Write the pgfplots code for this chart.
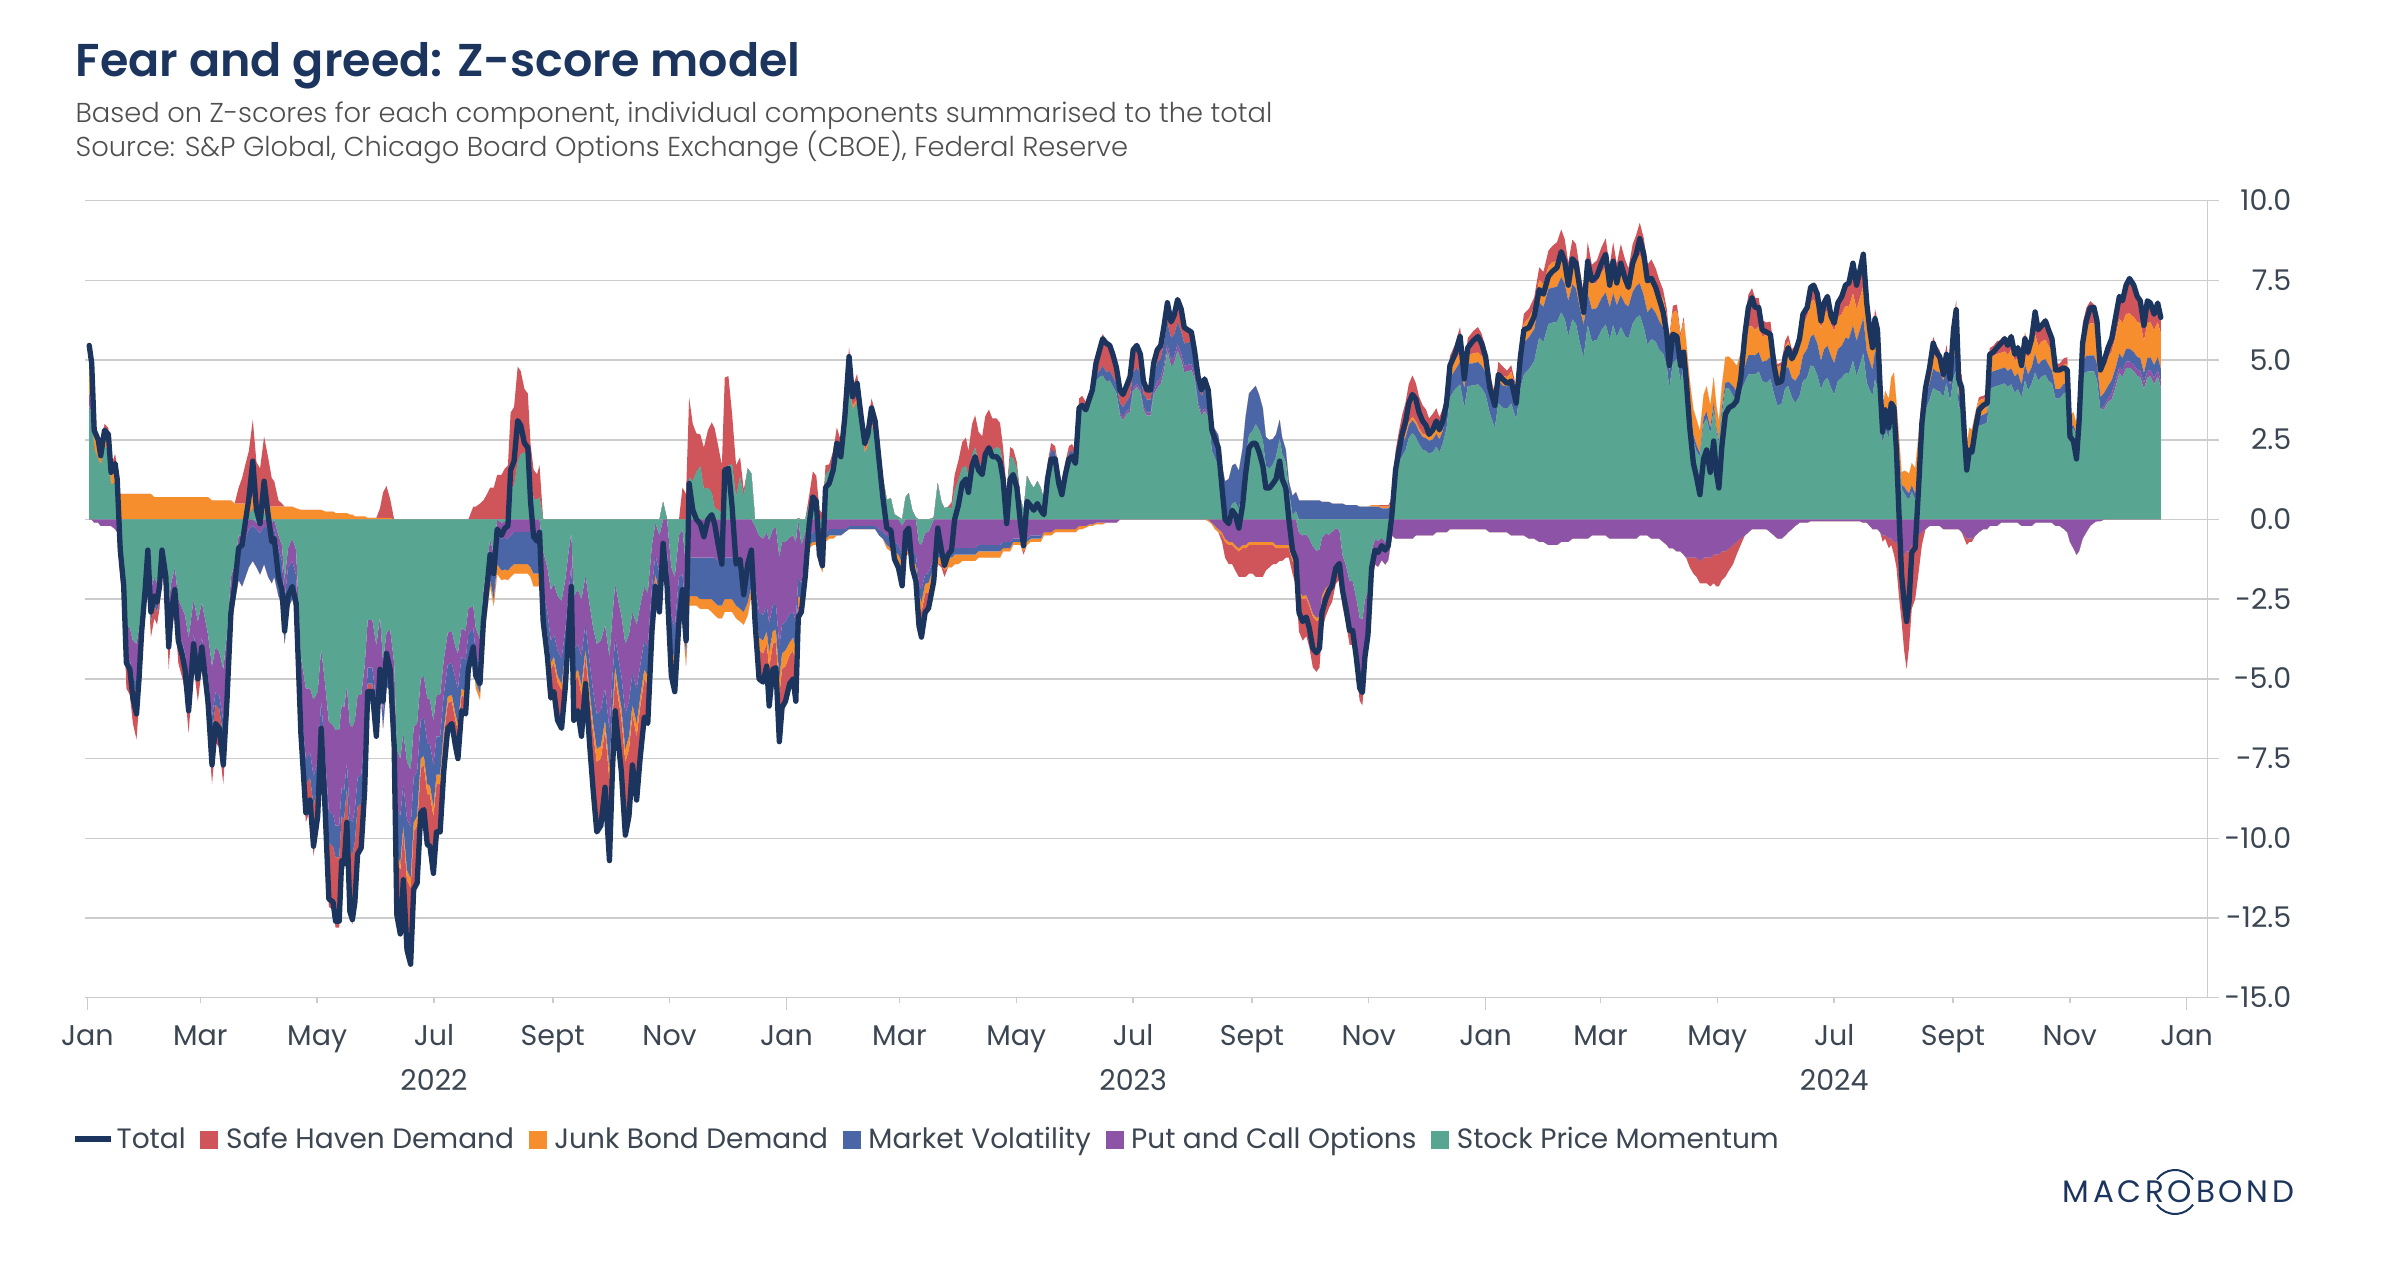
\documentclass[border=0pt]{standalone}
\usepackage{fontspec}
\setmainfont{Poppins}
\newfontfamily\titlefont{Poppins SemiBold}
\newfontfamily\lightfont{Poppins Light}
\usepackage{pgfplots}
\pgfplotsset{compat=1.18}
\usepackage{pgfplotstable}
\usetikzlibrary{calc}

\definecolor{navy}{HTML}{1C355E}
\definecolor{cR}{HTML}{D0555B}
\definecolor{cO}{HTML}{F68E2E}
\definecolor{cB}{HTML}{4A66A7}
\definecolor{cP}{HTML}{8D53A6}
\definecolor{cG}{HTML}{58A591}
\definecolor{gridc}{HTML}{CCCCCC}
\definecolor{tickc}{HTML}{3B4652}
\definecolor{subc}{HTML}{4F4F4F}

\pgfplotstableread{
d tot r o b p
1 5.46 0.7 0.8 0 0.4
2.3 4.9 0.6 0.7 0 0.3
3.6 2.8 0.3 0.4 0 -0.1
5.7 2.5 0.3 0.4 0 -0.1
7 2.0 0.2 0.3 0 -0.2
9 2.8 0.3 0.4 0 -0.2
11 2.67 0.4 0.3 0 -0.2
12.4 1.48 0.3 0.3 0 -0.2
14.5 1.76 0.6 0.3 0 -0.3
15.6 1.27 0.3 0.4 0 -0.4
17.2 -0.96 -0.1 0.8 -0.1 -0.3
19 -2.08 -0.3 0.8 -0.1 -0.5
20.4 -4.5 -0.8 0.8 -0.2 -1.0
22.2 -4.7 -0.9 0.8 -0.2 -1.0
23.8 -5.6 -1.2 0.8 -0.3 -1.1
25.7 -6.1 -1.5 0.8 -0.3 -1.2
27 -5.0 -1.0 0.8 -0.3 -1.1
28.4 -3.5 -0.5 0.8 -0.2 -0.9
30.2 -2.2 -0.3 0.8 -0.1 -0.7
31.6 -0.96 -0.1 0.8 -0.1 -0.4
33.2 -2.9 -0.5 0.8 -0.2 -0.8
35 -2.4 -0.4 0.7 -0.2 -0.7
36.4 -2.6 -0.4 0.7 -0.2 -0.7
37.7 -2.1 -0.3 0.7 -0.2 -0.7
39 -0.96 -0.1 0.7 -0.1 -0.5
41 -1.8 -0.3 0.7 -0.2 -0.7
42.5 -4.0 -0.8 0.7 -0.3 -1.0
43.8 -2.9 -0.5 0.7 -0.2 -0.9
45.7 -2.2 -0.4 0.7 -0.2 -0.8
47.5 -3.8 -0.7 0.7 -0.3 -1.0
49.7 -4.3 -0.8 0.7 -0.3 -1.1
51 -4.7 -0.9 0.7 -0.3 -1.2
52.9 -6.0 -1.2 0.7 -0.4 -1.4
55.5 -3.9 -0.7 0.7 -0.3 -1.1
57.7 -5.0 -1.0 0.7 -0.3 -1.2
59.8 -4.0 -0.7 0.7 -0.3 -1.1
63 -5.7 -1.1 0.7 -0.4 -1.3
65.1 -7.7 -1.6 0.6 -0.5 -1.6
67 -6.4 -1.2 0.6 -0.4 -1.4
68.9 -6.55 -1.2 0.6 -0.4 -1.4
71 -7.7 -1.5 0.6 -0.5 -1.6
72.9 -5.7 -1.0 0.6 -0.4 -1.3
75 -2.9 -0.3 0.6 -0.5 -0.9
76.9 -2.1 0 0.5 -0.6 -0.6
79 -0.9 0.5 0.5 -1.0 -0.4
80.8 -0.8 0.8 0.5 -1.2 -0.4
82.4 -0.13 1.2 0.5 -1.2 -0.3
84.3 0.64 1.6 0.4 -1.2 -0.3
86.4 1.83 2.4 0.4 -1.1 -0.2
88.3 0.3 1.4 0.4 -1.2 -0.2
90.2 -0.13 1.2 0.4 -1.3 -0.3
92.3 1.2 2.0 0.4 -1.2 -0.2
94.4 0.15 1.5 0.4 -1.5 -0.3
96.3 -0.7 0.9 0.4 -1.6 -0.3
97.6 -0.6 0.8 0.4 -1.5 -0.3
99.8 -1.8 0.2 0.4 -1.5 -0.4
101.6 -2.2 0.1 0.4 -1.4 -0.5
103 -3.5 0 0.4 -1.4 -0.6
104.8 -2.4 0 0.4 -1.3 -0.6
107 -2.1 0 0.4 -1.2 -0.7
109 -2.6 0 0.35 -1.2 -0.8
111.5 -6.7 -0.6 0.3 -0.6 -1.5
114.1 -9.2 -1.2 0.3 -0.8 -2.2
116.3 -8.8 -1.0 0.3 -0.8 -2.0
118.1 -10.25 -1.6 0.3 -0.9 -2.4
120.3 -9.3 -1.2 0.3 -0.8 -2.2
122.1 -6.55 -0.5 0.3 -0.7 -1.6
124.3 -9.3 -1.2 0.25 -0.8 -2.3
126.1 -11.9 -2.0 0.25 -1.0 -2.8
128.3 -12.0 -2.0 0.25 -1.0 -2.8
129.6 -12.6 -2.2 0.2 -1.0 -3.0
131.5 -12.6 -2.2 0.2 -1.0 -3.0
132.8 -10.7 -1.6 0.2 -0.9 -2.6
134.1 -10.8 -1.6 0.2 -0.9 -2.6
135.5 -9.5 -1.3 0.2 -0.8 -2.4
137.1 -12.3 -2.1 0.15 -1.0 -2.9
138.4 -12.55 -2.2 0.15 -1.0 -3.0
139.7 -12.0 -2.0 0.1 -1.0 -2.8
141.1 -10.5 -1.6 0.1 -0.9 -2.6
143 -10.3 -1.5 0.1 -0.9 -2.5
144.8 -8.5 -1.0 0.1 -0.8 -2.2
146.4 -5.4 -0.3 0.05 -0.5 -1.5
148.8 -5.4 -0.3 0.05 -0.5 -1.5
150.9 -6.8 -0.5 0.05 -0.6 -1.8
152.8 -4.7 0.3 0.05 -0.5 -1.5
154.4 -5.7 0.8 0.05 -0.5 -1.6
156.2 -4.2 1.0 0.05 -0.4 -1.3
158.1 -4.7 0.6 0.05 -0.5 -1.4
160.2 -7.1 0 0 -0.8 -1.8
161.6 -12.4 -1.8 -0.2 -1.4 -1.8
163.4 -13.0 -2.0 -0.2 -1.5 -1.8
165 -11.3 -1.5 -0.2 -1.3 -1.6
166.9 -13.5 -2.2 -0.3 -1.6 -1.8
168.8 -13.95 -2.4 -0.3 -1.6 -1.8
170.4 -11.6 -1.8 -0.3 -1.4 -1.6
172.2 -11.4 -1.8 -0.3 -1.4 -1.5
174.1 -9.2 -1.4 -0.3 -1.2 -1.3
175.7 -9.1 -1.4 -0.3 -1.2 -1.3
177.5 -10.2 -1.6 -0.3 -1.3 -1.4
178.9 -10.25 -1.6 -0.3 -1.3 -1.4
180.7 -11.1 -1.8 -0.3 -1.3 -1.4
182.3 -9.8 -1.5 -0.3 -1.2 -1.3
184.2 -9.8 -1.5 -0.3 -1.2 -1.3
186.1 -7.9 -1.1 -0.2 -1.1 -1.1
188.2 -6.55 -0.8 -0.2 -1.0 -1.0
190.3 -6.4 -0.7 -0.2 -1.0 -1.0
192.2 -7.1 -0.8 -0.2 -1.1 -1.0
193.5 -7.5 -0.9 -0.2 -1.1 -1.1
195.4 -6.0 -0.5 -0.2 -1.0 -0.9
197.5 -6.1 -0.5 -0.2 -1.0 -0.9
198.9 -4.7 0 -0.2 -0.9 -0.8
201.5 -4.0 0.4 -0.2 -0.8 -0.7
202.8 -4.9 0.4 -0.2 -0.9 -0.8
205 -5.15 0.5 -0.2 -0.9 -0.8
206.8 -3.2 0.6 -0.2 -0.8 -0.6
208.7 -2.1 0.8 -0.2 -0.8 -0.5
210.3 -1.1 1.0 -0.2 -0.8 -0.5
212.2 -1.7 1.0 -0.2 -0.9 -0.5
214 -0.3 1.4 -0.3 -0.9 -0.5
216.2 -0.5 1.4 -0.3 -1.0 -0.5
218 -0.27 1.6 -0.3 -1.0 -0.5
219.6 -0.2 1.7 -0.3 -1.0 -0.5
221 1.55 2.3 -0.3 -1.0 -0.5
222.8 1.83 2.5 -0.3 -1.0 -0.4
224.7 3.1 3.0 -0.3 -1.0 -0.4
226.3 2.95 2.6 -0.3 -1.0 -0.4
228.2 2.4 2.0 -0.3 -1.0 -0.4
230 2.25 1.8 -0.3 -1.0 -0.4
231.4 0.57 1.0 -0.3 -1.1 -0.4
233 -0.54 0.9 -0.4 -1.2 -0.5
234.8 -0.68 0.8 -0.4 -1.2 -0.5
236.1 -0.4 1.0 -0.4 -1.2 -0.5
238 -3.2 -0.2 -0.2 -0.6 -1.2
240.2 -4.3 -0.5 -0.2 -0.7 -1.4
242 -5.6 -0.9 -0.2 -0.7 -1.6
243.6 -5.4 -0.9 -0.2 -0.7 -1.6
245.5 -6.3 -1.2 -0.2 -0.8 -1.7
247.6 -6.55 -1.2 -0.2 -0.8 -1.8
249.5 -5.3 -0.9 -0.2 -0.7 -1.6
251.3 -3.5 -0.4 -0.2 -0.6 -1.3
252.7 -2.1 -0.1 -0.1 -0.5 -1.0
254 -6.3 -1.2 -0.2 -0.8 -1.7
256.1 -6.0 -1.1 -0.2 -0.8 -1.7
258 -6.8 -1.3 -0.3 -0.9 -1.8
260.1 -5.15 -0.9 -0.2 -0.8 -1.5
262.3 -7.1 -1.4 -0.3 -0.9 -1.8
264.1 -8.5 -1.8 -0.3 -1.0 -2.0
266 -9.8 -2.2 -0.4 -1.1 -2.2
268.1 -9.6 -2.1 -0.4 -1.1 -2.2
270.3 -8.4 -1.8 -0.3 -1.0 -2.0
272.6 -10.7 -2.5 -0.4 -1.2 -2.3
274.2 -7.8 -1.6 -0.3 -1.0 -1.9
275.6 -6.0 -1.1 -0.3 -0.9 -1.7
277.4 -7.1 -1.4 -0.3 -1.0 -1.8
278.8 -7.9 -1.7 -0.3 -1.0 -1.9
280.9 -9.9 -2.3 -0.4 -1.1 -2.2
282.8 -9.3 -2.1 -0.4 -1.1 -2.1
284.6 -7.7 -1.6 -0.3 -1.0 -1.9
286.8 -8.8 -2.0 -0.4 -1.1 -2.0
288.6 -7.5 -1.6 -0.3 -1.0 -1.9
290.8 -6.2 -1.2 -0.3 -0.9 -1.7
292.6 -6.4 -1.2 -0.3 -0.9 -1.7
294.8 -3.5 -0.5 -0.2 -0.7 -1.3
296.6 -2.1 -0.2 -0.2 -0.6 -1.0
298.7 -2.9 -0.3 -0.2 -0.7 -1.2
300.6 -0.75 0 -0.1 -0.5 -0.7
302.7 -2.1 -0.2 -0.2 -0.7 -1.0
304.9 -4.9 -0.6 -0.3 -1.0 -1.5
306.7 -5.4 -0.7 -0.3 -1.0 -1.6
308.9 -3.2 -0.3 -0.2 -0.9 -1.3
310.7 -2.2 1.0 -0.3 -1.2 -1.4
312.6 -3.8 0.8 -0.3 -1.3 -1.5
314.2 1.13 2.5 -0.3 -1.2 -1.2
316.1 0.3 1.8 -0.3 -1.2 -1.2
318 0 1.2 -0.3 -1.2 -1.2
320 -0.13 1.0 -0.3 -1.3 -1.2
321.9 -0.54 1.3 -0.3 -1.3 -1.2
324 0 1.8 -0.3 -1.3 -1.2
326 0.15 2.2 -0.4 -1.3 -1.2
327.5 -0.13 2.5 -0.4 -1.4 -1.2
329.4 -0.8 2.0 -0.4 -1.4 -1.3
331.3 -1.4 1.5 -0.4 -1.4 -1.3
332.8 1.55 3.0 -0.4 -1.3 -1.2
334.7 1.6 2.8 -0.4 -1.3 -1.2
336.6 0.43 1.6 -0.4 -1.3 -1.2
338.7 -1.4 1.0 -0.4 -1.4 -1.3
340.8 -1.25 0.6 -0.4 -1.4 -1.4
342.7 -2.36 0.2 -0.4 -1.4 -1.5
344.8 -1.4 0 -0.4 -1.2 -1.4
346.7 -0.96 0 -0.3 -0.9 -1.2
348.6 -3.2 -0.3 -0.3 -0.6 -1.8
350.7 -5.0 -0.9 -0.4 -0.8 -2.4
352.8 -5.1 -0.9 -0.4 -0.8 -2.4
354.7 -4.6 -0.7 -0.4 -0.8 -2.3
356 -5.85 -1.2 -0.5 -0.9 -2.6
357.9 -4.7 -0.8 -0.4 -0.8 -2.4
359.5 -4.65 -0.8 -0.4 -0.8 -2.4
361.3 -6.97 -1.5 -0.5 -1.0 -2.8
362.7 -5.9 -1.2 -0.5 -0.9 -2.6
364.5 -5.7 -1.1 -0.5 -0.9 -2.5
366.7 -5.15 -0.9 -0.4 -0.9 -2.4
368.5 -5.0 -0.9 -0.4 -0.8 -2.4
369.9 -5.7 -1.1 -0.5 -0.9 -2.5
371.2 -3.06 -0.4 -0.3 -0.6 -1.8
372.8 -2.9 -0.2 -0.2 -0.5 -1.2
374.8 -1.8 0 -0.2 -0.4 -0.8
376.9 -0.13 0.3 -0.1 -0.3 -0.5
378.8 0.71 1.0 -0.1 -0.3 -0.4
380.6 0.57 1.2 -0.1 -0.3 -0.4
382.2 -1.1 0.3 -0.2 -0.4 -0.6
383.8 -1.45 0.2 -0.2 -0.4 -0.7
385.4 1.0 0.3 -0.1 -0.2 -0.4
387.3 1.13 0.2 -0.1 -0.2 -0.3
389.4 1.55 0.3 -0.1 -0.2 -0.3
391.3 2.39 0.5 0.1 -0.2 -0.3
393.4 1.97 0.4 0.1 -0.2 -0.3
395.5 3.23 0.6 0.1 -0.1 -0.3
397.7 5.11 1.0 0.2 -0.1 -0.2
399.5 3.85 0.6 0.1 -0.1 -0.2
401.9 4.27 0.8 0.1 -0.1 -0.2
404 3.23 0.6 0.1 -0.1 -0.2
405.9 2.39 0.5 0.1 -0.1 -0.2
407.5 2.67 0.6 0.1 -0.1 -0.2
409.4 3.5 0.8 0.1 -0.1 -0.2
411.3 3.09 0.6 0.1 -0.1 -0.2
413.4 1.83 0.2 0.1 -0.2 -0.3
415.3 0.71 0 0 -0.2 -0.4
417.4 -0.27 0 -0.1 -0.3 -0.5
419.5 -0.34 0 -0.1 -0.3 -0.6
421.4 -1.24 -0.2 -0.2 -0.3 -0.7
423.5 -1.52 -0.3 -0.2 -0.3 -0.8
425.4 -2.08 -0.5 -0.2 -0.3 -0.9
427.2 -0.4 0 -0.1 -0.2 -0.8
428.8 -0.27 0 -0.1 -0.2 -0.8
430.7 -1.52 -0.3 -0.2 -0.3 -1.0
432.6 -1.94 -0.4 -0.2 -0.3 -1.1
434.2 -3.34 -0.7 -0.3 -0.3 -1.3
435.5 -3.69 -0.8 -0.3 -0.4 -1.4
437.4 -2.92 -0.6 -0.3 -0.3 -1.3
439.2 -2.78 -0.5 -0.3 -0.3 -1.3
441.9 -1.94 -0.3 -0.2 -0.3 -1.2
444 -0.27 0 -0.2 -0.2 -1.0
445.9 -0.96 -0.1 -0.2 -0.2 -1.0
447.5 -1.45 -0.2 -0.3 -0.2 -1.1
449.4 -1.1 0 -0.3 -0.2 -1.0
451.2 -0.96 0.2 -0.3 -0.2 -1.0
452.8 0 0.5 -0.3 -0.2 -0.9
454.7 0.43 0.6 -0.3 -0.2 -0.9
456.8 1.13 0.8 -0.2 -0.2 -0.9
458.7 1.27 0.9 -0.2 -0.2 -0.9
460 0.85 0.8 -0.2 -0.2 -0.9
461.9 1.69 1.0 -0.2 -0.2 -0.9
463.5 1.97 1.0 -0.2 -0.2 -0.9
465.3 1.55 1.0 -0.2 -0.2 -0.8
467.2 1.41 0.9 -0.2 -0.2 -0.8
468.8 2.04 1.1 -0.2 -0.2 -0.8
470.7 2.25 1.2 -0.2 -0.2 -0.8
472.5 1.97 1.0 -0.2 -0.2 -0.8
474.7 1.97 0.9 -0.2 -0.2 -0.8
476.5 1.83 0.8 -0.2 -0.2 -0.8
478.1 1.27 0.5 -0.1 -0.2 -0.7
480 -0.13 0.1 -0.1 -0.2 -0.7
481.8 1.27 0.3 -0.1 -0.2 -0.7
483.4 1.41 0.3 -0.1 -0.1 -0.6
485.3 1.0 0.2 -0.1 -0.1 -0.6
487.2 -0.13 0 -0.1 -0.1 -0.6
488.8 -0.82 -0.1 -0.2 -0.1 -0.7
490.6 0.57 0 -0.1 -0.1 -0.6
492.5 0.43 0 -0.1 -0.1 -0.5
494.1 0.29 0 -0.1 -0.1 -0.5
496 0.5 0 -0.1 -0.1 -0.5
497.8 0.29 0 -0.1 -0.1 -0.5
499.4 0.15 0 -0.1 0.1 -0.4
501.3 1.27 0.1 -0.1 0.2 -0.4
503.2 1.9 0.2 -0.1 0.2 -0.4
505.3 1.9 0.2 -0.1 0.3 -0.3
507.2 1.13 0.1 -0.1 0.2 -0.3
508.8 0.78 0.1 -0.1 0.2 -0.3
510.6 1.41 0.2 -0.1 0.2 -0.3
512.5 1.9 0.2 -0.1 0.2 -0.3
514.1 1.97 0.2 -0.1 0.2 -0.3
515.9 1.76 0.2 -0.1 0.2 -0.3
517.8 3.5 0.3 -0.1 0.1 -0.2
519.4 3.58 0.2 -0.1 0.1 -0.2
521.3 3.44 0.2 -0.05 0.1 -0.2
523.1 3.78 0.3 -0.05 0.1 -0.15
524.7 4.06 0.3 -0.05 0.1 -0.15
526.6 4.9 0.5 -0.05 0.2 -0.1
528.5 5.32 0.8 -0.05 0.2 -0.1
530.1 5.67 1.0 -0.05 0.3 -0.1
531.9 5.53 1.0 0 0.3 -0.1
533.8 5.46 0.9 0 0.3 -0.1
535.4 5.18 0.8 0 0.3 -0.1
537.3 4.76 0.6 0 0.3 -0.1
539.1 4.06 0.4 0 0.3 0.1
540.7 3.92 0.4 0 0.3 0.1
542.6 4.2 0.5 0 0.3 0.1
544.4 4.48 0.6 0 0.4 0.1
546 5.32 0.7 0 0.5 0.1
547.9 5.46 0.7 0 0.5 0.1
549.8 5.18 0.6 0 0.5 0.1
551.4 4.34 0.4 0 0.4 0.1
553.2 4.06 0.3 0 0.4 0.1
555.1 4.06 0.3 0 0.4 0.1
556.7 4.9 0.4 0 0.5 0.1
558.6 5.32 0.4 0 0.6 0.2
560.4 5.46 0.4 0 0.6 0.2
562 6.02 0.5 0 0.7 0.2
563.9 6.8 0.6 0 0.7 0.2
565.8 6.2 0.5 0 0.7 0.2
567.4 6.4 0.6 0 0.7 0.2
569.2 6.9 0.7 0 0.7 0.2
571.1 6.6 0.7 0 0.7 0.2
572.7 6.02 0.5 0 0.7 0.2
574.5 5.95 0.4 0 0.7 0.2
576.4 5.88 0.3 0 0.7 0.2
578 5.32 0.2 0 0.6 0.1
579.9 4.48 0.2 0 0.6 0.1
581.7 4.06 0.2 0 0.5 0.1
583.3 4.41 0.3 0 0.6 0.1
585.2 4.06 0.2 -0.05 0.6 0.1
587.1 2.81 0 -0.05 0.8 -0.1
588.7 2.53 0 -0.1 0.9 -0.2
590.5 2.25 0 -0.1 1.0 -0.3
592.4 0.99 -0.2 -0.1 1.0 -0.4
594 0 -0.5 -0.1 1.1 -0.6
595.9 -0.13 -0.6 -0.1 1.1 -0.7
597.7 0.29 -0.6 -0.1 1.2 -0.7
599.3 0.15 -0.7 -0.1 1.2 -0.8
601.2 -0.27 -0.8 -0.1 1.2 -0.9
603.1 0.43 -0.9 -0.1 1.3 -0.8
604.7 1.41 -0.9 -0.1 1.3 -0.8
606.5 2.25 -0.9 -0.1 1.3 -0.7
608.4 2.39 -0.9 -0.1 1.3 -0.7
610 2.39 -1.0 -0.1 1.2 -0.7
611.8 2.11 -1.0 -0.1 1.1 -0.7
613.7 1.69 -1.0 -0.1 1.0 -0.7
615.3 0.99 -0.8 -0.1 0.9 -0.7
617.2 0.99 -0.7 -0.1 0.9 -0.7
619 1.13 -0.6 -0.1 0.8 -0.7
620.6 1.27 -0.5 -0.1 0.7 -0.8
622.5 1.83 -0.4 -0.1 0.6 -0.8
623.8 1.27 -0.4 -0.1 0.5 -0.8
625.7 0.99 -0.3 -0.1 0.4 -0.8
627.3 0 -0.3 -0.1 0.3 -0.8
629.2 -0.96 -0.4 -0.1 0.6 -1.2
631 -1.24 -0.6 -0.1 0.6 -1.4
632.6 -2.92 -1.2 -0.1 0.6 -1.8
634.5 -3.2 -1.3 -0.1 0.6 -1.9
636.4 -3.06 -1.2 -0.1 0.6 -1.9
638 -3.41 -1.3 -0.1 0.6 -2.0
639.8 -4.04 -1.6 -0.1 0.6 -2.1
641.7 -4.18 -1.6 -0.1 0.6 -2.1
643.3 -4.04 -1.5 -0.1 0.6 -2.1
644.6 -2.92 -1.0 -0.1 0.55 -1.8
646.5 -2.5 -0.8 -0.1 0.55 -1.7
648.3 -2.22 -0.6 -0.1 0.55 -1.6
649.9 -2.08 -0.5 -0.1 0.5 -1.6
651.8 -1.52 -0.3 -0.05 0.5 -1.4
653.7 -1.38 -0.2 -0.05 0.5 -1.3
655.3 -2.22 -0.2 0 0.5 -1.4
657.1 -2.78 -0.3 0 0.45 -1.5
659 -3.48 -0.4 0 0.45 -1.6
660.6 -3.48 -0.4 0 0.45 -1.6
662.5 -4.32 -0.5 0 0.45 -1.8
664.3 -5.29 -0.6 0 0.4 -2.0
665.7 -5.43 -0.7 0 0.4 -2.0
667 -4.32 -0.4 0 0.4 -1.8
668.6 -3.62 -0.2 0 0.4 -1.6
670.5 -1.52 0 0.05 0.4 -1.0
672.3 -0.96 0 0.05 0.4 -0.8
673.9 -1.03 0 0.05 0.4 -0.8
675.8 -0.82 0.05 0.05 0.35 -0.7
677.6 -0.96 0.05 0.05 0.35 -0.7
679.2 -0.82 0.05 0.05 0.35 -0.6
681.1 0.15 0.1 0.1 0.2 -0.5
683 1.55 0.3 0.1 0.3 -0.6
684.6 2.11 0.5 0.1 0.3 -0.6
686.4 2.67 0.8 0.1 0.4 -0.6
688.3 3.09 1.0 0.1 0.4 -0.6
689.9 3.65 1.2 0.1 0.4 -0.6
691.8 3.92 1.3 0.1 0.4 -0.6
693.6 3.78 1.2 0.1 0.4 -0.5
695.2 3.37 1.0 0.1 0.4 -0.5
697.1 3.09 0.9 0.1 0.4 -0.5
698.9 2.95 0.8 0.1 0.4 -0.5
700.5 2.67 0.6 0.1 0.4 -0.5
702.4 2.81 0.6 0.2 0.4 -0.5
704.3 3.09 0.6 0.2 0.4 -0.4
705.9 2.81 0.5 0.2 0.4 -0.4
707.7 3.09 0.5 0.2 0.4 -0.4
709.6 3.65 0.4 0.3 0.5 -0.4
711.4 4.83 0.4 0.3 0.6 -0.3
714 5.18 0.5 0.3 0.6 -0.3
716.7 5.74 0.8 0.3 0.7 -0.3
718.9 4.41 0.3 0.3 0.6 -0.3
720.7 5.39 0.5 0.3 0.7 -0.3
723.4 5.6 0.7 0.3 0.7 -0.3
726 5.74 0.8 0.3 0.7 -0.3
727.9 5.53 0.7 0.3 0.7 -0.3
730 5.11 0.5 0.3 0.7 -0.3
732.2 4.13 0.3 0.3 0.6 -0.4
734.8 3.58 0.2 0.3 0.6 -0.4
736.7 4.55 0.3 0.3 0.7 -0.4
738.8 4.41 0.3 0.3 0.7 -0.4
741.2 4.27 0.2 0.3 0.7 -0.4
743.4 4.34 0.2 0.3 0.7 -0.5
746 3.65 0.1 0.3 0.6 -0.5
748.2 5.11 0.2 0.5 0.8 -0.5
750 5.95 0.3 0.6 1.0 -0.5
752.7 6.02 0.3 0.6 1.0 -0.6
755.4 6.37 0.3 0.7 1.0 -0.6
758 7.21 0.4 0.7 1.1 -0.7
760.2 7.07 0.4 0.7 1.1 -0.7
762.8 7.63 0.5 0.7 1.1 -0.8
764.7 7.77 0.5 0.8 1.1 -0.8
767.3 7.9 0.6 0.8 1.1 -0.8
769.5 8.4 0.7 0.8 1.1 -0.7
771.3 8.1 0.6 0.8 1.1 -0.7
773.2 7.35 0.4 0.8 1.1 -0.7
775.3 8.18 0.6 0.8 1.1 -0.6
777.2 8.04 0.6 0.8 1.1 -0.6
779.3 7.21 0.4 0.8 1.1 -0.6
781.2 6.5 0.3 0.7 1.0 -0.6
783.3 8.1 0.8 0.8 1.0 -0.6
785.5 7.49 0.6 0.8 1.0 -0.5
788.1 7.63 0.7 0.8 1.0 -0.5
790.5 8.04 0.8 0.8 1.0 -0.5
792.7 8.32 0.9 0.8 1.0 -0.5
794.8 7.35 0.6 0.7 1.0 -0.6
796.6 8.1 0.8 0.8 1.0 -0.6
798.5 7.42 0.6 0.7 1.0 -0.6
800.6 8.04 0.8 0.8 1.0 -0.6
802.8 7.56 0.6 0.8 1.0 -0.6
804.6 7.28 0.5 0.7 1.0 -0.6
806.8 8.04 0.7 0.8 1.0 -0.6
808.6 8.32 0.8 0.8 1.0 -0.6
810.5 8.81 1.0 0.9 1.0 -0.5
812.6 8.32 0.9 0.9 1.0 -0.5
814.5 7.49 0.6 0.9 1.0 -0.5
816.6 7.56 0.6 0.9 1.0 -0.6
818.8 7.28 0.5 0.9 0.9 -0.6
820.6 6.93 0.4 0.9 0.9 -0.6
822.7 6.51 0.3 0.9 0.8 -0.7
824.6 5.81 0.2 1.0 0.6 -0.8
825.9 4.83 0.1 1.0 0.5 -0.9
827.8 5.81 0.2 1.0 0.6 -0.9
829.9 5.74 0.2 1.0 0.5 -1.0
831.8 4.83 0.1 1.0 0.4 -1.0
833.4 5.25 0.1 1.0 0.4 -1.1
834.7 4.41 0 0.9 0.3 -1.2
836.6 2.88 -0.3 0.8 0.2 -1.2
838.5 1.76 -0.5 0.8 0.2 -1.2
840.1 1.34 -0.6 0.8 0.2 -1.2
841.9 0.78 -0.7 0.7 0.1 -1.3
843.8 1.9 -0.8 0.7 0.2 -1.2
845.4 2.18 -0.8 0.8 0.2 -1.2
847.3 1.48 -0.9 0.7 0.2 -1.2
849.1 2.46 -0.9 0.8 0.2 -1.1
850.5 1.48 -1.0 0.7 0.1 -1.1
851.8 0.99 -1.0 0.6 0.1 -1.1
853.4 2.32 -0.9 0.7 0.2 -1.0
855.2 3.3 -0.8 0.8 0.2 -1.0
857.1 3.51 -0.7 0.8 0.2 -0.9
859.2 3.58 -0.6 0.8 0.3 -0.8
861.1 3.72 -0.4 0.8 0.3 -0.7
863.2 4.41 -0.2 0.8 0.4 -0.6
865.4 5.81 0.6 0.9 0.5 -0.5
867.2 6.65 1.0 0.9 0.6 -0.4
869.1 6.96 1.2 0.9 0.6 -0.3
870.7 6.65 1.0 0.8 0.6 -0.3
872.6 6.65 0.9 0.8 0.6 -0.3
874.4 5.95 0.5 0.8 0.6 -0.3
876.6 5.88 0.4 0.8 0.7 -0.3
878.7 5.81 0.3 0.8 0.7 -0.4
880.6 4.83 0.1 0.7 0.6 -0.5
882.4 4.27 0.1 0.6 0.6 -0.6
884.6 4.34 0.1 0.6 0.6 -0.6
886.4 5.11 0.2 0.7 0.6 -0.5
888 5.39 0.2 0.8 0.6 -0.4
889.9 5.04 0.1 0.8 0.6 -0.3
891.7 5.25 0.2 0.9 0.7 -0.2
893.9 5.67 0.3 0.9 0.7 -0.1
895.7 6.44 0.4 1.0 0.8 -0.1
897.9 6.65 0.4 1.0 0.9 -0.1
899.7 7.28 0.5 1.1 0.9 -0.05
901.3 7.35 0.5 1.1 1.0 -0.05
903.2 7.07 0.5 1.1 1.0 -0.05
905.1 6.23 0.3 1.0 0.9 -0.05
906.7 6.79 0.4 1.1 1.0 -0.05
908.5 7.0 0.5 1.1 1.0 -0.05
910.4 6.37 0.3 1.0 1.0 -0.05
912 6.16 0.3 1.0 1.0 -0.05
913.9 6.79 0.5 1.0 1.0 -0.05
916 7.0 0.6 1.0 1.0 -0.05
917.9 7.35 0.7 1.0 1.1 -0.05
919.7 7.42 0.8 1.0 1.1 -0.05
921.8 8.04 1.0 1.0 1.1 -0.05
923.7 7.35 0.8 1.0 1.1 -0.05
925.3 7.77 0.9 1.0 1.1 -0.05
927.2 8.32 1.1 1.0 1.1 -0.1
929 6.79 0.6 1.0 1.0 -0.1
930.6 5.95 0.3 0.9 0.9 -0.2
932 5.39 0.2 0.8 0.8 -0.3
933.3 6.3 0.4 0.9 0.9 -0.3
934.6 5.95 0.3 0.9 0.9 -0.3
936 4.13 0 0.7 0.6 -0.4
937.3 2.74 -0.2 0.6 0.5 -0.5
938.6 3.44 -0.1 0.7 0.5 -0.5
940.5 2.88 -0.3 0.8 0.4 -0.6
941.8 3.65 -0.2 0.9 0.5 -0.6
943.2 3.51 -0.4 1.0 0.4 -0.7
944.5 2.18 -0.8 0.8 0.3 -0.7
945.8 0.22 -1.5 0.6 0.2 -0.9
947.2 -1.73 -2.2 0.4 0.1 -1.0
948.5 -2.57 -3.0 0.5 0.2 -1.1
949.8 -3.2 -3.7 0.6 0.2 -1.0
951.1 -2.57 -3.0 0.6 0.2 -1.0
952.5 -1.03 -2.0 0.7 0.2 -0.8
954.3 -0.89 -1.8 0.8 0.2 -0.7
956 0.92 -1.2 0.9 0.2 -0.5
957.8 3.02 -0.4 0.8 0.3 -0.4
959.7 4.13 0 0.6 0.4 -0.3
961.8 4.76 0.2 0.5 0.5 -0.2
963.7 5.53 0.5 0.5 0.6 -0.2
965.3 5.25 0.4 0.4 0.6 -0.2
967.1 5.11 0.3 0.4 0.6 -0.2
969 4.55 0.2 0.3 0.5 -0.3
970.6 5.18 0.3 0.3 0.6 -0.3
972.5 4.41 0.2 0.3 0.5 -0.3
974.3 5.95 0.8 0.4 0.6 -0.3
975.7 6.58 1.2 0.4 0.6 -0.3
977 4.41 0.4 0.4 0.4 -0.3
978.6 4.13 0.2 0.5 0.3 -0.4
979.9 2.74 -0.1 0.6 0.2 -0.5
981.2 1.55 -0.2 0.5 0.1 -0.6
982.6 2.18 -0.1 0.6 0.1 -0.6
983.9 2.11 -0.1 0.5 0.1 -0.6
985.8 2.88 0 0.5 0.2 -0.5
987.6 3.44 0.1 0.5 0.3 -0.4
989.8 3.58 0.1 0.5 0.3 -0.3
991.9 3.65 0.1 0.5 0.3 -0.3
993.2 5.18 0.3 0.5 0.5 -0.2
995.1 5.25 0.3 0.5 0.5 -0.2
997 5.39 0.4 0.5 0.5 -0.2
999.1 5.53 0.4 0.5 0.5 -0.1
1001 5.67 0.5 0.5 0.5 -0.1
1002.6 5.46 0.4 0.5 0.5 -0.1
1004.4 5.74 0.5 0.6 0.5 -0.1
1006.3 5.18 0.3 0.5 0.5 -0.1
1007.9 5.39 0.4 0.5 0.5 -0.1
1009.8 4.83 0.3 0.5 0.4 -0.2
1011.6 5.67 0.5 0.5 0.5 -0.2
1013.2 5.25 0.4 0.5 0.5 -0.2
1015.1 5.67 0.5 0.6 0.5 -0.2
1016.9 6.51 0.8 0.6 0.6 -0.1
1018.5 5.95 0.6 0.6 0.5 -0.1
1020.4 6.09 0.6 0.6 0.5 -0.1
1022.3 6.23 0.7 0.6 0.5 -0.1
1023.9 5.95 0.6 0.6 0.5 -0.1
1025.7 5.67 0.5 0.6 0.4 -0.1
1027.6 4.69 0.2 0.6 0.3 -0.2
1029.7 4.69 0.2 0.6 0.3 -0.2
1031.9 4.76 0.2 0.6 0.3 -0.3
1033.7 4.69 0.2 0.6 0.3 -0.4
1035.1 2.6 0 0.4 0.1 -0.7
1036.9 2.46 0 0.4 0.1 -0.9
1038.5 1.9 0 0.3 0.1 -1.1
1039.8 3.02 0 0.4 0.2 -1.0
1041.7 5.53 0.4 0.8 0.4 -0.6
1043.6 6.23 0.6 0.9 0.5 -0.4
1045.7 6.65 0.7 1.0 0.5 -0.2
1047.6 6.65 0.6 1.0 0.5 -0.1
1049.2 6.23 0.4 1.0 0.5 -0.05
1051 4.69 0.1 0.8 0.4 -0.05
1052.9 4.97 0.2 0.8 0.4 0.1
1055 5.39 0.3 0.9 0.4 0.1
1056.9 5.67 0.4 0.9 0.4 0.2
1059 6.37 0.6 1.0 0.4 0.2
1060.9 7.0 0.7 1.1 0.4 0.2
1062.5 6.86 0.7 1.1 0.4 0.2
1064.4 7.35 0.9 1.1 0.4 0.2
1066.2 7.56 1.1 1.1 0.4 0.2
1068.4 7.35 1.0 1.1 0.4 0.2
1070.2 7.0 0.8 1.1 0.4 0.2
1071.8 6.86 0.7 1.1 0.4 0.2
1073.7 6.09 0.5 1.0 0.3 0.2
1075.5 6.86 0.7 1.1 0.4 0.2
1077.1 6.79 0.6 1.1 0.4 0.2
1079 6.44 0.5 1.1 0.4 0.2
1080.9 6.79 0.6 1.1 0.4 0.2
1082.5 6.34 0.5 1.1 0.4 0.2
}\data

\newcommand\gexpr{\thisrow{tot}-(\thisrow{r})-(\thisrow{o})-(\thisrow{b})-(\thisrow{p})}

\pgfplotsset{
  base/.style={
    scale only axis, width=636.78pt, height=239.1pt,
    at={(25.41pt,86.49pt)}, anchor=south west,
    xmin=-1.36, xmax=1106.8, ymin=-15, ymax=10,
  },
}

\begin{document}
\begin{tikzpicture}[x=0.3pt,y=0.3pt]
\useasboundingbox (0,0) rectangle (2404,1286);

\begin{axis}[base, stack plots=y,
  axis x line*=bottom, axis y line*=right,
  axis line style={gridc, line width=0.45pt},
  ymajorgrids, grid style={gridc, line width=0.45pt},
  tick align=outside,
  major tick length=3.6pt,
  xtick style={gridc, line width=0.45pt, /pgfplots/major tick length=1.5pt},
  ytick style={gridc, line width=0.45pt},
  ytick={-15,-12.5,-10,-7.5,-5,-2.5,0,2.5,5,7.5,10},
  yticklabels={-15.0,-12.5,-10.0,-7.5,-5.0,-2.5,0.0,2.5,5.0,7.5,10.0},
  xtick={0,59,120,181,243,304,365,424,485,546,608,669,730,790,851,912,974,1035,1096},
  xticklabels={Jan,Mar,May,{Jul\\2022},Sept,Nov,Jan,Mar,May,{Jul\\2023},Sept,Nov,Jan,Mar,May,{Jul\\2024},Sept,Nov,Jan},
  extra x ticks={0,365,730,1096},
  extra x tick labels={},
  extra x tick style={xtick style={gridc, line width=0.45pt, /pgfplots/major tick length=3.6pt}},
  typeset ticklabels with strut,
  /pgf/number format/assume math mode=true,
  xticklabel style={align=center, font=\fontsize{8.55}{13.4}\selectfont, text=tickc, inner sep=0pt, yshift=-1.2pt},
  yticklabel style={anchor=east, font=\fontsize{8.55}{10}\selectfont, text=tickc, inner sep=0pt, xshift=21.8pt, yshift=-1pt},
]
\addplot[fill=cG, draw=none] table[x=d, y expr={max(\gexpr,0)}] {\data} \closedcycle;
\addplot[fill=cP, draw=none] table[x=d, y expr={max(\thisrow{p},0)}] {\data} \closedcycle;
\addplot[fill=cB, draw=none] table[x=d, y expr={max(\thisrow{b},0)}] {\data} \closedcycle;
\addplot[fill=cO, draw=none] table[x=d, y expr={max(\thisrow{o},0)}] {\data} \closedcycle;
\addplot[fill=cR, draw=none] table[x=d, y expr={max(\thisrow{r},0)}] {\data} \closedcycle;
\end{axis}

\begin{axis}[base, hide axis, stack plots=y]
\addplot[fill=cG, draw=none] table[x=d, y expr={min(\gexpr,0)}] {\data} \closedcycle;
\addplot[fill=cP, draw=none] table[x=d, y expr={min(\thisrow{p},0)}] {\data} \closedcycle;
\addplot[fill=cB, draw=none] table[x=d, y expr={min(\thisrow{b},0)}] {\data} \closedcycle;
\addplot[fill=cO, draw=none] table[x=d, y expr={min(\thisrow{o},0)}] {\data} \closedcycle;
\addplot[fill=cR, draw=none] table[x=d, y expr={min(\thisrow{r},0)}] {\data} \closedcycle;
\end{axis}

\begin{axis}[base, hide axis]
\addplot[navy, line width=1.6pt, line join=round, line cap=round] table[x=d, y=tot] {\data};
\end{axis}

% titles
\node[anchor=base west, inner sep=0, text=navy, font=\fontsize{13.8}{17}\titlefont] at (75,1209) {Fear and greed: Z-score model};
\node[anchor=base west, inner sep=0, text=subc, font=\fontsize{8.2}{10}\lightfont] at (75,1163) {Based on Z-scores for each component, individual components summarised to the total};
\node[anchor=base west, inner sep=0, text=subc, font=\fontsize{8.2}{10}\lightfont] at (75,1129) {Source: S\&P Global, Chicago Board Options Exchange (CBOE), Federal Reserve};

% legend
\tikzset{leg/.style={anchor=base west, inner sep=0, text=tickc, font=\fontsize{8.4}{10}\selectfont}}
\draw[navy, line width=1.6pt] (75,147) -- (111,147);
\node[leg] (t0) at (116,137) {Total};
\coordinate (s1) at ($(t0.base east)+(14,0)$);
\fill[cR] (s1) rectangle ++(18,18);
\node[leg] (t1) at ($(s1)+(25,0)$) {Safe Haven Demand};
\coordinate (s2) at ($(t1.base east)+(14,0)$);
\fill[cO] (s2) rectangle ++(18,18);
\node[leg] (t2) at ($(s2)+(25,0)$) {Junk Bond Demand};
\coordinate (s3) at ($(t2.base east)+(14,0)$);
\fill[cB] (s3) rectangle ++(18,18);
\node[leg] (t3) at ($(s3)+(25,0)$) {Market Volatility};
\coordinate (s4) at ($(t3.base east)+(14,0)$);
\fill[cP] (s4) rectangle ++(18,18);
\node[leg] (t4) at ($(s4)+(25,0)$) {Put and Call Options};
\coordinate (s5) at ($(t4.base east)+(14,0)$);
\fill[cG] (s5) rectangle ++(18,18);
\node[leg] (t5) at ($(s5)+(25,0)$) {Stock Price Momentum};

% logo
\node[anchor=base west, inner sep=0, text=navy, font=\fontsize{9.3}{11}\selectfont\addfontfeature{LetterSpace=12}] at (2062,83) {MACROBOND};
\draw[navy, line width=0.6pt] (2175,94) ++(35:22) arc[start angle=35, end angle=145, radius=22];
\draw[navy, line width=0.6pt] (2175,94) ++(215:22) arc[start angle=215, end angle=325, radius=22];
\end{tikzpicture}
\end{document}
